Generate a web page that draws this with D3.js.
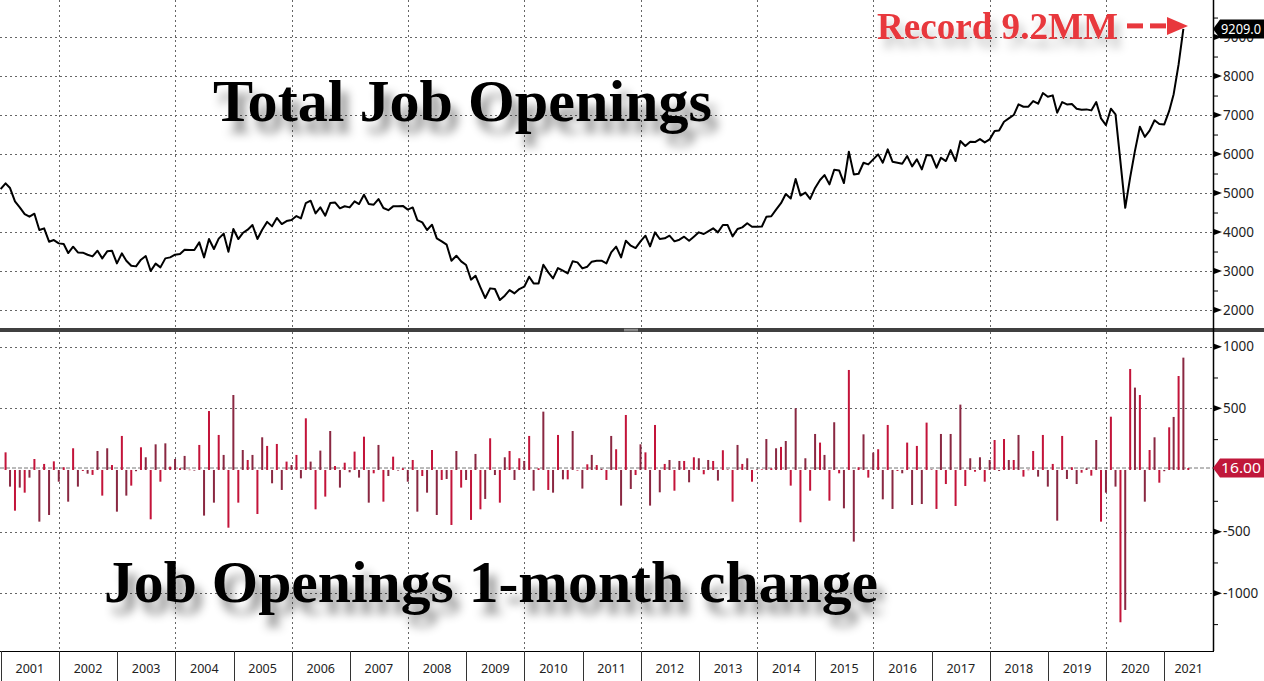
<!DOCTYPE html>
<html><head><meta charset="utf-8">
<script src="https://cdn.jsdelivr.net/npm/d3@7"></script>
<style>html,body{margin:0;padding:0;background:#fff;overflow:hidden}</style>
</head><body><svg id="c" width="1264" height="681"></svg>
<script>
// ---------------- DATA ----------------
const levelStart = "2000-12"; // first month of the level series (monthly, end of month)
const openings = [
  5103,
  5248,5128,4786,4632,4461,4393,4470,4051,4094,3752,3794,3709,
  3692,3461,3624,3478,3470,3418,3375,3521,3324,3504,3521,3196,
  3452,3264,3136,3119,3290,3384,3000,3190,3093,3324,3350,3418,
  3435,3546,3538,3538,3735,3350,3820,3564,3830,3960,3495,4077,
  3820,3974,4060,4179,3820,4060,4260,4145,4360,4205,4280,4307,
  4410,4350,4743,4803,4478,4632,4418,4743,4760,4607,4660,4632,
  4786,4718,4957,4718,4701,4846,4615,4560,4658,4658,4670,4575,
  4630,4307,4247,4051,4188,3838,3761,3675,3265,3393,3248,3154,
  2778,2880,2581,2308,2555,2538,2256,2367,2512,2427,2538,2598,
  2854,2683,2683,3162,2965,2811,3076,3008,2940,3248,3222,3068,
  3111,3239,3265,3265,3196,3478,3624,3350,3777,3649,3589,3760,
  3906,3632,3991,3820,3840,3906,3761,3803,3880,3777,3880,3991,
  3949,4017,4094,3991,4179,4179,3889,4077,4119,4225,4136,4136,
  4141,4390,4405,4575,4740,4975,4860,5360,4935,5010,4850,5130,
  5333,5461,5222,5597,5580,5256,6059,5478,5495,5777,5734,5862,
  5991,5777,6119,5803,5777,5751,5948,5683,5862,5606,5974,5960,
  5649,5905,5820,6102,5820,6333,6205,6316,6307,6384,6299,6376,
  6589,6606,6829,6914,7000,7273,7213,7213,7359,7290,7564,7470,
  7504,7060,7333,7273,7282,7162,7136,7145,7119,7333,6914,6743,
  7162,7017,5800,4620,5400,6080,6700,6440,6600,6865,6770,6760,
  7106,7536,8298,9209
];
const changeStart = "2001-01"; // first month of the 1-month change series
const changes = [
  143,-135,-330,-143,-184,-62,89,-419,49,-365,70,-95,
  22,-257,176,-135,-8,-30,-40,154,-208,176,40,-338,
  276,-208,-127,-10,184,103,-400,208,-95,216,27,89,
  14,114,3,-3,203,-370,478,-265,284,122,-468,608,
  -265,162,81,122,-357,265,195,-108,211,-162,68,40,
  122,-68,419,68,-319,157,-216,316,32,-143,59,-19,
  149,-62,270,-265,-27,203,-257,-49,108,-5,14,-95,
  81,-338,-49,-184,162,-365,-81,-73,-446,154,-143,-81,
  -405,130,-319,-235,257,-41,-265,103,154,-81,95,73,
  276,-168,14,473,-162,-184,284,-76,-76,316,-5,-151,
  46,122,40,10,-81,276,168,-289,446,-154,-41,208,
  143,-289,365,-181,49,81,-168,73,73,-100,103,95,
  -35,81,73,-86,160,5,-257,203,49,95,-95,5,
  5,251,14,176,187,235,-127,500,-424,95,-168,292,
  222,122,-249,387,-27,-311,811,-581,22,289,-62,141,
  168,-238,365,-316,-8,-27,222,-284,195,-276,384,5,
  -316,292,-114,292,-292,530,-130,95,-14,103,-95,81,
  243,-8,251,81,81,284,-54,3,154,-54,284,-135,
  49,-411,276,-73,22,-114,-22,14,-46,243,-419,-184,
  432,-135,-1235,-1135,819,668,608,-257,162,265,-103,-10,
  346,430,762,911,16
];
const years = [2001,2002,2003,2004,2005,2006,2007,2008,2009,2010,2011,2012,2013,2014,2015,2016,2017,2018,2019,2020,2021];
const gridYears = [2002,2004,2006,2008,2010,2012,2014,2016,2018,2020];
const topTicks = [2000,3000,4000,5000,6000,7000,8000,9000];
const topMinor = [2500,3500,4500,5500,6500,7500,8500,9500];
const bottomTicks = [-1000,-500,500,1000];
const bottomMinor = [-1250,-750,-250,250,750];
const lastLevelLabel = "9209.0";
const lastChangeLabel = "16.00";
const titleTop = "Total Job Openings";
const titleBottom = "Job Openings 1-month change";
const recordText = "Record 9.2MM";

// ---------------- LAYOUT ----------------
const W = 1264, H = 681, axisX = 1213;
const svg = d3.select("#c");
const monthEnd = (start, i) => { const [y, m] = start.split("-").map(Number); return new Date(y, m - 1 + i + 1, 0); };

const x = d3.scaleTime().domain([new Date(2000, 11, 27), new Date(2021, 10, 2)]).range([0, axisX]);
const yTop = d3.scaleLinear().domain([1590, 9950]).range([326, 0]);
const yBot = d3.scaleLinear().domain([-1468, 1127]).range([651, 331]);

const defs = svg.append("defs");
const f = defs.append("filter").attr("id", "sh").attr("x", "-10%").attr("y", "-40%").attr("width", "130%").attr("height", "200%");
f.append("feGaussianBlur").attr("in", "SourceAlpha").attr("stdDeviation", 5).attr("result", "bl");
f.append("feOffset").attr("in", "bl").attr("dx", 7).attr("dy", 12).attr("result", "of");
f.append("feFlood").attr("flood-color", "#000").attr("flood-opacity", 0.42);
f.append("feComposite").attr("in2", "of").attr("operator", "in");
const fm = f.append("feMerge"); fm.append("feMergeNode"); fm.append("feMergeNode").attr("in", "SourceGraphic");
const f2 = defs.append("filter").attr("id", "sh2").attr("x", "-10%").attr("y", "-40%").attr("width", "130%").attr("height", "200%");
f2.append("feGaussianBlur").attr("in", "SourceAlpha").attr("stdDeviation", 4).attr("result", "bl");
f2.append("feOffset").attr("in", "bl").attr("dx", 5).attr("dy", 9).attr("result", "of");
f2.append("feFlood").attr("flood-color", "#000").attr("flood-opacity", 0.22);
f2.append("feComposite").attr("in2", "of").attr("operator", "in");
const fm2 = f2.append("feMerge"); fm2.append("feMergeNode"); fm2.append("feMergeNode").attr("in", "SourceGraphic");
defs.append("clipPath").attr("id", "cTop").append("rect").attr("x", 0).attr("y", 0).attr("width", axisX).attr("height", 327);
defs.append("clipPath").attr("id", "cBot").append("rect").attr("x", 0).attr("y", 332).attr("width", axisX).attr("height", 319);

svg.append("rect").attr("width", W).attr("height", H).attr("fill", "#fff");

// grid
const grid = svg.append("g").attr("stroke", "#666").attr("stroke-width", 1).attr("stroke-dasharray", "2,3").attr("fill", "none");
topTicks.forEach(t => grid.append("line").attr("x1", 0).attr("x2", axisX).attr("y1", Math.round(yTop(t)) + 0.5).attr("y2", Math.round(yTop(t)) + 0.5));
bottomTicks.forEach(t => grid.append("line").attr("x1", 0).attr("x2", axisX).attr("y1", Math.round(yBot(t)) + 0.5).attr("y2", Math.round(yBot(t)) + 0.5));
gridYears.forEach(yr => {
  const gx = Math.round(x(new Date(yr, 0, 1))) + 0.5;
  grid.append("line").attr("x1", gx).attr("x2", gx).attr("y1", 0).attr("y2", 327);
  grid.append("line").attr("x1", gx).attr("x2", gx).attr("y1", 332).attr("y2", 651);
});

// last value dashed line (bottom)
svg.append("line").attr("x1", 0).attr("x2", axisX).attr("y1", yBot(changes[changes.length - 1])).attr("y2", yBot(changes[changes.length - 1]))
  .attr("stroke", "#777").attr("stroke-width", 1).attr("stroke-dasharray", "4,2");

// titles
svg.append("text").text(titleTop).attr("x", 213).attr("y", 121).attr("textLength", 499).attr("lengthAdjust", "spacingAndGlyphs")
  .attr("font-family", "Liberation Serif, serif").attr("font-weight", "bold").attr("font-size", 60).attr("fill", "#000").attr("filter", "url(#sh)");
svg.append("text").text(titleBottom).attr("x", 104).attr("y", 602).attr("textLength", 774).attr("lengthAdjust", "spacingAndGlyphs")
  .attr("font-family", "Liberation Serif, serif").attr("font-weight", "bold").attr("font-size", 59).attr("fill", "#000").attr("filter", "url(#sh)");

// bars
svg.append("g").attr("clip-path", "url(#cBot)").selectAll("rect").data(changes).join("rect")
  .attr("x", (d, i) => x(monthEnd(changeStart, i)) - 1)
  .attr("width", 2)
  .attr("y", d => yBot(Math.max(0, d)))
  .attr("height", d => Math.max(0.6, Math.abs(yBot(d) - yBot(0))))
  .attr("fill", (d, i) => i % 2 ? "#8a2842" : "#c3143a");

// line
const line = d3.line().x((d, i) => x(monthEnd(levelStart, i))).y(d => yTop(d));
svg.append("path").datum(openings).attr("clip-path", "url(#cTop)").attr("d", line)
  .attr("fill", "none").attr("stroke", "#000").attr("stroke-width", 2).attr("stroke-linejoin", "round");

// separator
svg.append("rect").attr("x", 0).attr("y", 328).attr("width", W).attr("height", 4).attr("fill", "#404040");
svg.append("line").attr("x1", 624).attr("x2", 638).attr("y1", 329.3).attr("y2", 329.3).attr("stroke", "#bbb").attr("stroke-width", 0.8);
svg.append("line").attr("x1", 624).attr("x2", 638).attr("y1", 330.8).attr("y2", 330.8).attr("stroke", "#bbb").attr("stroke-width", 0.8);

// right axis
svg.append("line").attr("x1", axisX + 0.5).attr("x2", axisX + 0.5).attr("y1", 0).attr("y2", 651).attr("stroke", "#000").attr("stroke-width", 1.5);
const axFont = "Noto Sans, DejaVu Sans, sans-serif";
function drawAxis(scale, majors, minors) {
  const g = svg.append("g").attr("transform", `translate(${axisX + 1},0)`);
  const ax = d3.axisRight(scale).tickValues(majors).tickSize(0).tickPadding(9).tickFormat(d => String(d));
  g.call(ax);
  g.select(".domain").remove();
  g.selectAll("text").attr("font-family", axFont).attr("font-size", 13.5).attr("fill", "#222");
  majors.forEach(t => g.append("path").attr("d", `M0,${scale(t) - 3}L8,${scale(t)}L0,${scale(t) + 3}Z`).attr("fill", "#000"));
  const gm = svg.append("g").attr("transform", `translate(${axisX + 1},0)`);
  gm.call(d3.axisRight(scale).tickValues(minors).tickSize(4).tickFormat(""));
  gm.select(".domain").remove();
  gm.selectAll("line").attr("stroke", "#000");
}
drawAxis(yTop, topTicks, topMinor);
drawAxis(yBot, bottomTicks, bottomMinor);

// last value labels
function valueTag(yv, txt, color) {
  const g = svg.append("g");
  g.append("path").attr("d", `M${axisX},${yv}L${axisX + 7},${yv - 9.5}L${W},${yv - 9.5}L${W},${yv + 9.5}L${axisX + 7},${yv + 9.5}Z`).attr("fill", color);
  g.append("text").text(txt).attr("x", axisX + 8).attr("y", yv + 5).attr("textLength", 40).attr("lengthAdjust", "spacingAndGlyphs")
    .attr("font-family", axFont).attr("font-size", 13.5).attr("fill", "#fff");
}
valueTag(yTop(openings[openings.length - 1]), lastLevelLabel, "#000");
valueTag(yBot(changes[changes.length - 1]), lastChangeLabel, "#c0173a");

// record annotation
svg.append("text").text(recordText).attr("x", 877).attr("y", 39).attr("textLength", 241).attr("lengthAdjust", "spacingAndGlyphs")
  .attr("font-family", "Liberation Serif, serif").attr("font-weight", "bold").attr("font-size", 38).attr("fill", "#e8383d").attr("filter", "url(#sh2)");
const ay = yTop(openings[openings.length - 1]) - 3;
const arr = svg.append("g").attr("fill", "#e8383d");
arr.append("rect").attr("x", 1127).attr("y", ay - 2.5).attr("width", 16).attr("height", 5);
arr.append("rect").attr("x", 1150).attr("y", ay - 2.5).attr("width", 16).attr("height", 5);
arr.append("path").attr("d", `M1167,${ay - 9}L1188,${ay}L1167,${ay + 9}Z`);

// year strip
svg.append("line").attr("x1", 0).attr("x2", axisX + 1).attr("y1", 651.5).attr("y2", 651.5).attr("stroke", "#000").attr("stroke-width", 1);
const ys = svg.append("g");
years.forEach(yr => {
  const a = Math.max(0, x(new Date(yr, 0, 1)));
  const b = Math.min(axisX, x(new Date(yr + 1, 0, 1)));
  const lx = Math.round(x(new Date(yr, 0, 1))) + 0.5;
  if (lx > 0) ys.append("line").attr("x1", lx).attr("x2", lx).attr("y1", 651).attr("y2", H).attr("stroke", "#333");
  ys.append("text").text(yr).attr("x", (a + b) / 2).attr("y", 673).attr("text-anchor", "middle")
    .attr("font-family", axFont).attr("font-size", 12.5).attr("fill", "#222");
});
</script></body></html>
